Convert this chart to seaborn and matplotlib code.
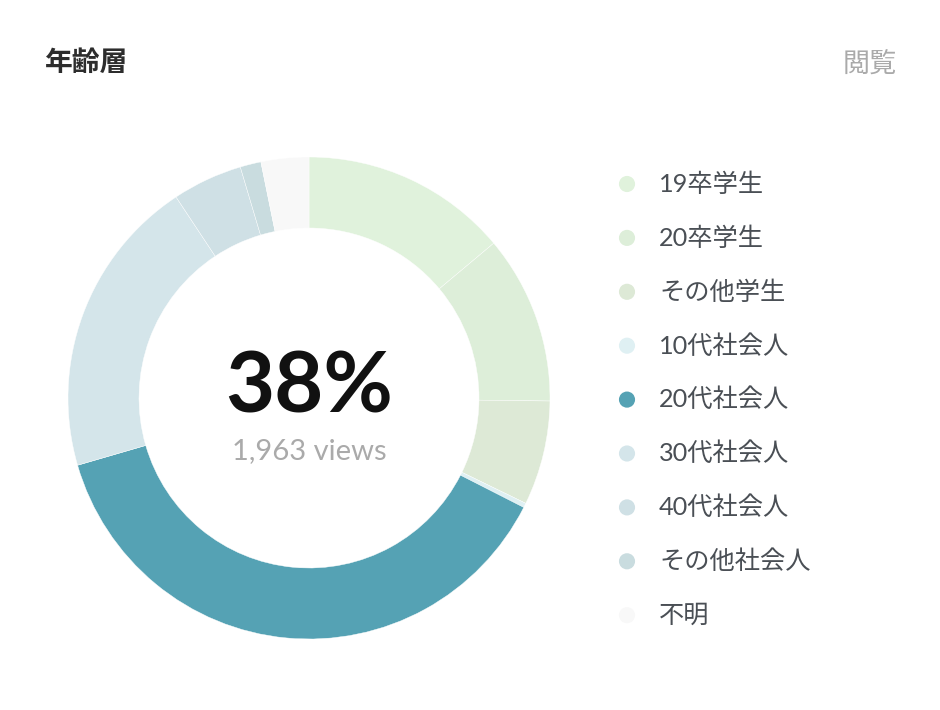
import matplotlib
matplotlib.use("Agg")
import matplotlib.pyplot as plt
import seaborn as sns

categories = ["19卒学生", "20卒学生", "その他学生", "10代社会人", "20代社会人",
              "30代社会人", "40代社会人", "その他社会人", "不明"]
shares = [13.9, 11.3, 7.0, 0.3, 38.0, 20.2, 4.7, 1.4, 3.2]
colors = ["#e0f2dc", "#ddeed9", "#dde9d6", "#dff0f3", "#55a2b4",
          "#d4e5ea", "#cfe0e5", "#c9dcdf", "#f8f8f8"]
center_value = "38%"
center_sub = "1,963 views"
title = "年齢層"
right_label = "閲覧"

sns.set_style("white")
plt.rcParams['font.family'] = ['Lato', 'Noto Sans CJK JP', 'DejaVu Sans']

W, H = 940, 710
fig = plt.figure(figsize=(W / 100, H / 100), dpi=100)
fig.patch.set_facecolor("white")

cx, cy, R = 309, 398, 241
ax = fig.add_axes([(cx - R) / W, (H - cy - R) / H, 2 * R / W, 2 * R / H])
ax.pie(shares, colors=colors, startangle=90, counterclock=False, radius=1,
       wedgeprops=dict(width=71 / 241, edgecolor="white", linewidth=0.3))
ax.set_xlim(-1, 1)
ax.set_ylim(-1, 1)
ax.set_aspect("equal")
ax.axis("off")

ax.text(0, 0.04, center_value, ha="center", va="center", fontsize=61,
        fontweight="bold", color="#111111", family=['Lato', 'DejaVu Sans'])
ax.text(0, -0.22, center_sub, ha="center", va="center", fontsize=21,
        color="#aaaaaa", family=['Lato', 'DejaVu Sans'])

fig.text(45 / W, 1 - 63 / H, title, ha="left", va="center", fontsize=20,
         fontweight="bold", color="#2d2d2d",
         family=['Noto Sans CJK JP', 'DejaVu Sans'])
fig.text(897 / W, 1 - 64 / H, right_label, ha="right", va="center", fontsize=19.5,
         color="#aaaaaa", family=['Noto Sans CJK JP', 'DejaVu Sans'])

lax = fig.add_axes([0, 0, 1, 1], facecolor="none")
lax.set_xlim(0, W)
lax.set_ylim(H, 0)
lax.axis("off")
y0, dy = 184, 53.9
for i, (lab, col) in enumerate(zip(categories, colors)):
    y = y0 + i * dy
    lax.scatter([627], [y], s=135, color=col, edgecolors="none")
    lax.text(659, y, lab, ha="left", va="center", fontsize=18.2,
             color="#4a4f55", family=['Lato', 'Noto Sans CJK JP'])

fig.savefig("out.png", dpi=100, facecolor="white")
